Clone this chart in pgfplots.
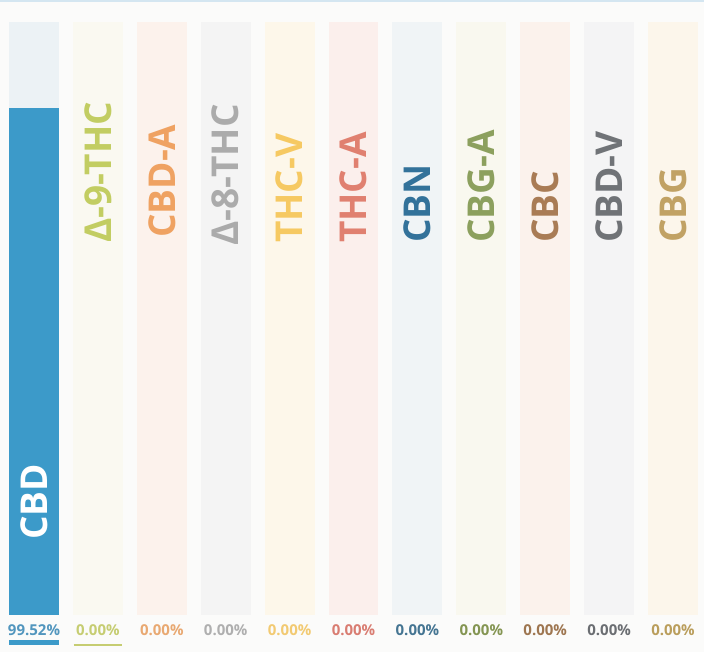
\documentclass[border=0pt]{standalone}
\usepackage{fontspec}
\setmainfont{Open Sans}
\usepackage{pgfplots}
\pgfplotsset{compat=1.18}

% page and tracks
\definecolor{pagebg}{HTML}{FBFBFA}
\definecolor{topline}{HTML}{D4E6F1}
\definecolor{bgCBD}{HTML}{ECF2F5}
\definecolor{bgDn}{HTML}{FAF9F1}
\definecolor{bgCBDA}{HTML}{FCF2EC}
\definecolor{bgDe}{HTML}{F4F4F4}
\definecolor{bgTHCV}{HTML}{FDF7EA}
\definecolor{bgTHCA}{HTML}{FBEFEC}
\definecolor{bgCBN}{HTML}{F0F4F6}
\definecolor{bgCBGA}{HTML}{F9F8EF}
\definecolor{bgCBC}{HTML}{FBF2EC}
\definecolor{bgCBDV}{HTML}{F4F4F5}
\definecolor{bgCBG}{HTML}{FCF6EB}
% label colours
\definecolor{cCBD}{HTML}{3C9AC9}
\definecolor{cDn}{HTML}{C2CD62}
\definecolor{cCBDA}{HTML}{EFA262}
\definecolor{cDe}{HTML}{ABABAB}
\definecolor{cTHCV}{HTML}{F6C962}
\definecolor{cTHCA}{HTML}{E08070}
\definecolor{cCBN}{HTML}{33729A}
\definecolor{cCBGA}{HTML}{8CA05E}
\definecolor{cCBC}{HTML}{A97C55}
\definecolor{cCBDV}{HTML}{707377}
\definecolor{cCBG}{HTML}{C1A264}
% value colours
\definecolor{vCBD}{HTML}{5296BE}
\definecolor{vDn}{HTML}{C6CD72}
\definecolor{vCBDA}{HTML}{E9A972}
\definecolor{vDe}{HTML}{AFAFAF}
\definecolor{vTHCV}{HTML}{F2CA72}
\definecolor{vTHCA}{HTML}{D97D72}
\definecolor{vCBN}{HTML}{457592}
\definecolor{vCBGA}{HTML}{849552}
\definecolor{vCBC}{HTML}{9E7650}
\definecolor{vCBDV}{HTML}{6B6E72}
\definecolor{vCBG}{HTML}{BA9E5C}

\newcommand{\labfont}{\fontsize{37}{37}\selectfont\bfseries}
\newcommand{\valfont}{\fontsize{15}{15}\selectfont\bfseries}
\tikzset{
    lab/.style={rotate=90, anchor=west, inner sep=0pt, font=\labfont},
    val/.style={inner sep=0pt, font=\valfont},
}

\begin{document}
\begin{tikzpicture}
\begin{axis}[
    scale only axis,
    width=704pt, height=593pt,
    xmin=-0.532, xmax=10.485,
    ymin=0, ymax=116.4,
    hide axis, clip=false,
    track/.style={ybar, bar width=0.78, bar shift=0pt, draw=none},
    ]
    \fill[pagebg] ([yshift=-37pt]rel axis cs:0,0) rectangle ([yshift=22pt]rel axis cs:1,1);
    \fill[topline] ([yshift=20pt]rel axis cs:0,1) rectangle ([yshift=22pt]rel axis cs:1,1);

    % full-height tracks
    \addplot[track, fill=bgCBD]  coordinates {(0,116.4)};
    \addplot[track, fill=bgDn]   coordinates {(1,116.4)};
    \addplot[track, fill=bgCBDA] coordinates {(2,116.4)};
    \addplot[track, fill=bgDe]   coordinates {(3,116.4)};
    \addplot[track, fill=bgTHCV] coordinates {(4,116.4)};
    \addplot[track, fill=bgTHCA] coordinates {(5,116.4)};
    \addplot[track, fill=bgCBN]  coordinates {(6,116.4)};
    \addplot[track, fill=bgCBGA] coordinates {(7,116.4)};
    \addplot[track, fill=bgCBC]  coordinates {(8,116.4)};
    \addplot[track, fill=bgCBDV] coordinates {(9,116.4)};
    \addplot[track, fill=bgCBG]  coordinates {(10,116.4)};

    % values (the other ten are 0.00 and draw no bar)
    \addplot[track, fill=cCBD] coordinates {(0,99.52)};

    % names
    \node[lab, text=white] at (axis cs:0,14.7) {CBD};
    \node[lab, text=cDn]   at (axis cs:1,73) {Δ-9-THC};
    \node[lab, text=cCBDA] at (axis cs:2,74) {CBD-A};
    \node[lab, text=cDe]   at (axis cs:3,72.5) {Δ-8-THC};
    \node[lab, text=cTHCV] at (axis cs:4,73) {THC-V};
    \node[lab, text=cTHCA] at (axis cs:5,73) {THC-A};
    \node[lab, text=cCBN]  at (axis cs:6,73) {CBN};
    \node[lab, text=cCBGA] at (axis cs:7,73) {CBG-A};
    \node[lab, text=cCBC]  at (axis cs:8,73) {CBC};
    \node[lab, text=cCBDV] at (axis cs:9,73) {CBD-V};
    \node[lab, text=cCBG]  at (axis cs:10,73) {CBG};

    % percentages
    \node[val, text=vCBD]  at ([yshift=-15pt]axis cs:0,0) {99.52\%};
    \node[val, text=vDn]   at ([yshift=-15pt]axis cs:1,0) {0.00\%};
    \node[val, text=vCBDA] at ([yshift=-15pt]axis cs:2,0) {0.00\%};
    \node[val, text=vDe]   at ([yshift=-15pt]axis cs:3,0) {0.00\%};
    \node[val, text=vTHCV] at ([yshift=-15pt]axis cs:4,0) {0.00\%};
    \node[val, text=vTHCA] at ([yshift=-15pt]axis cs:5,0) {0.00\%};
    \node[val, text=vCBN]  at ([yshift=-15pt]axis cs:6,0) {0.00\%};
    \node[val, text=vCBGA] at ([yshift=-15pt]axis cs:7,0) {0.00\%};
    \node[val, text=vCBC]  at ([yshift=-15pt]axis cs:8,0) {0.00\%};
    \node[val, text=vCBDV] at ([yshift=-15pt]axis cs:9,0) {0.00\%};
    \node[val, text=vCBG]  at ([yshift=-15pt]axis cs:10,0) {0.00\%};

    % underlines
    \fill[cCBD] ([yshift=-25pt]axis cs:-0.39,0) rectangle ([yshift=-30pt]axis cs:0.39,0);
    \draw[vDn, line width=1.2pt] ([yshift=-30pt]axis cs:0.62,0) -- ([yshift=-30pt]axis cs:1.38,0);
\end{axis}
\end{tikzpicture}
\end{document}
